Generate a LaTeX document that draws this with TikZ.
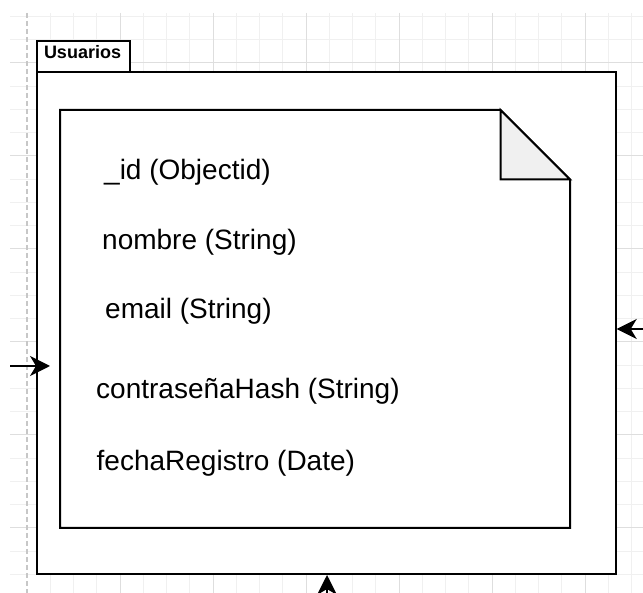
\documentclass[tikz,border=0pt]{standalone}
\usepackage{fontspec}
\setmainfont{Liberation Sans}
\usetikzlibrary{arrows.meta}
\tikzset{
  minorline/.style={black!6, line width=1pt},
  majorline/.style={black!13, line width=1pt},
  pageline/.style={black!22, line width=1.2pt, dash pattern=on 5pt off 3pt},
  frame/.style={draw=black, line width=2pt, fill=white},
  field/.style={anchor=base west, inner sep=0pt, font=\fontsize{28}{34}\selectfont},
  tabtitle/.style={anchor=base west, inner sep=0pt, font=\bfseries\fontsize{18}{22}\selectfont},
  link/.style={-{Stealth[length=20pt,width=20pt,inset=6pt]}, line width=1.7pt},
}
\begin{document}
\begin{tikzpicture}[x=1pt,y=-1pt]
    \clip (0,0) rectangle (643,593);

    % Raster
    \foreach \k in {1,...,26}
        \draw[minorline] ({27+\k*23.25},13) -- ({27+\k*23.25},593);
    \foreach \k in {0,...,24}
        \draw[minorline] (10,{16.5+\k*23.25}) -- (643,{16.5+\k*23.25});
    \foreach \k in {4,8,...,24}
        \draw[majorline] ({27+\k*23.25},13) -- ({27+\k*23.25},593);
    \foreach \k in {2,6,...,22}
        \draw[majorline] (10,{16.5+\k*23.25}) -- (643,{16.5+\k*23.25});
    \draw[pageline] (27,13) -- (27,593);

    % Paket Usuarios
    \draw[frame] (36.7,40.7) rectangle (129.5,72.5);
    \draw[frame] (36.7,72.5) rectangle (616,574);
    \node[tabtitle] (title) at (43.8,58.3) {Usuarios};

    % Notiz mit Eselsohr
    \draw[frame] (60,110) -- (500.5,110) -- (570,179.5) -- (570,528) -- (60,528) -- cycle;
    \draw[frame, fill=black!6] (500.5,110) -- (500.5,179.5) -- (570,179.5) -- cycle;

    % Felder
    \node[field] (id) at (104,179.5) {\_id (Objectid)};
    \node[field] (nombre) at (102,249.5) {nombre (String)};
    \node[field] (email) at (105,318.5) {email (String)};
    \node[field] (hash) at (96,398.5) {contraseñaHash (String)};
    \node[field] (fecha) at (96.5,470.5) {fechaRegistro (Date)};

    % Verbindungen
    \coordinate (westIn) at (10,366);
    \coordinate (westTip) at (50,366);
    \coordinate (eastIn) at (650,329);
    \coordinate (eastTip) at (616.7,329);
    \coordinate (southIn) at (327,615);
    \coordinate (southTip) at (327,575);
    \draw[link] (westIn) -- (westTip);
    \draw[link] (eastIn) -- (eastTip);
    \draw[link] (southIn) -- (southTip);
\end{tikzpicture}
\end{document}
